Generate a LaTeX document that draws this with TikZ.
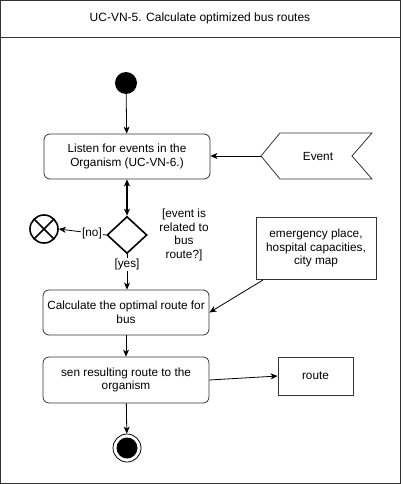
\documentclass[tikz,border=0pt]{standalone}
\usepackage{fontspec}
\setmainfont{Liberation Sans}
\usetikzlibrary{arrows.meta,shapes.geometric,calc}
\begin{document}
\begin{tikzpicture}[x=1pt,y=-1pt,
  every node/.style={font=\fontsize{11.8}{13.5}\selectfont, text=black, align=center, inner sep=0pt},
  action/.style={draw=black!80, rounded corners=6pt, line width=0.8pt},
  databox/.style={draw=black!80, line width=0.8pt},
  arr/.style={-{Stealth[length=7pt,width=6pt,inset=2pt]}, line width=0.8pt},
  darr/.style={{Stealth[length=7pt,width=6pt,inset=2pt]}-{Stealth[length=7pt,width=6pt,inset=2pt]}, line width=1.3pt}]
\useasboundingbox (0,0) rectangle (403,484);
% frame
\draw[black!80, line width=0.8pt] (0.5,0.5) rectangle (400,483);
\draw[black!80, line width=0.8pt] (0.5,37) -- (400,37);
\node[font=\fontsize{12}{14}\selectfont] (title) at (200,18) {UC-VN-5. Calculate optimized bus routes};
% start
\node[circle, fill=black, minimum size=22pt] (start) at (126,83) {};
% listen
\node[action, minimum width=166pt, minimum height=45pt] (listen) at (127,156.5) {Listen for events in the\\Organism (UC-VN-6.)};
% event signal
\draw[black!80, line width=0.8pt] (261,156) -- (280,133) -- (372,133) -- (352,156) -- (372,179) -- (280,179) -- cycle;
\coordinate (evtip) at (261,156);
\node (event) at (318,156) {Event};
% decision
\node[diamond, draw=black, line width=1.6pt, minimum width=40pt, minimum height=37pt, aspect=1] (dec) at (127,235) {};
\node (cond) at (184,235) {[event is\\related to\\bus\\route?]};
% flow final
\node[circle, draw=black, line width=1.6pt, minimum size=28pt] (ff) at (44,229) {};
\draw[line width=1.6pt] ($(ff.center)+(-9.9,-9.9)$) -- ($(ff.center)+(9.9,9.9)$);
\draw[line width=1.6pt] ($(ff.center)+(-9.9,9.9)$) -- ($(ff.center)+(9.9,-9.9)$);
% calculate
\node[action, minimum width=166pt, minimum height=45pt] (calc) at (126,312.5) {Calculate the optimal route for\\bus};
% data
\node[databox, minimum width=120pt, minimum height=62pt] (data) at (316,248) {emergency place,\\hospital capacities,\\city map};
% send
\node[action, minimum width=166pt, minimum height=46pt] (send) at (126,380) {sen resulting route to the\\organism};
% route
\node[databox, minimum width=75pt, minimum height=38pt] (route) at (315.5,376) {route};
% end
\node[circle, draw=black, line width=0.8pt, minimum size=28pt] (endc) at (127,448) {};
\node[circle, fill=black, minimum size=21pt] (endi) at (127,448) {};
% connectors
\draw[arr] (start) -- (listen);
\draw[arr] (evtip) -- (listen.east |- evtip);
\draw[darr] (listen.south -| dec.north) -- (dec.north);
\draw[arr] (dec.west) -- node[pos=0.3, fill=white, inner sep=1pt] {[no]} (ff.east);
\draw[arr] (dec.south) -- node[pos=0.3, fill=white, inner sep=1pt] {[yes]} (calc.north -| dec.south);
\coordinate (dfrom) at (263,280);
\draw[arr] (dfrom) -- (calc.east);
\draw[arr] (calc) -- (send);
\draw[arr] (send.east) -- (route.west);
\draw[arr] (send) -- (endc);
\end{tikzpicture}
\end{document}
